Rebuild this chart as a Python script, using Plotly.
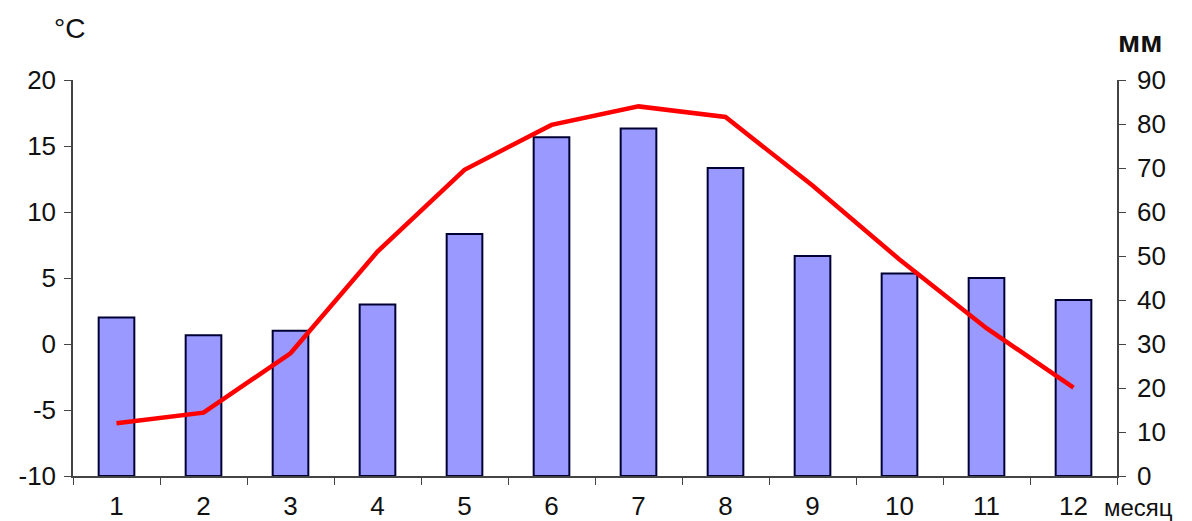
import plotly.graph_objects as go

months = [str(m) for m in range(1, 13)]
precip_mm = [36, 32, 33, 39, 55, 77, 79, 70, 50, 46, 45, 40]
temp_c = [-6.0, -5.2, -0.7, 7.0, 13.2, 16.6, 18.0, 17.2, 12.0, 6.4, 1.2, -3.3]

temp_ticks = [-10, -5, 0, 5, 10, 15, 20]
mm_ticks = [0, 10, 20, 30, 40, 50, 60, 70, 80, 90]

font_family = 'Liberation Sans, Arial, sans-serif'
axis_color = '#444444'
text_color = '#111111'

fig = go.Figure()

# precipitation bars on the right axis (primary y so the line sits on top)
fig.add_trace(go.Bar(
    x=months, y=precip_mm,
    marker=dict(color='#9999FF', line=dict(color='#000033', width=2)),
    width=0.41,
    yaxis='y',
))

# temperature line on the left axis
fig.add_trace(go.Scatter(
    x=months, y=temp_c,
    mode='lines',
    line=dict(color='#FF0000', width=4.5),
    yaxis='y2',
))

tick_font = dict(size=26, family=font_family, color=text_color)

# page body has an 8px margin, so the figure is shifted; margins compensate
fig.update_layout(
    width=1176, height=513,
    margin=dict(l=65, r=67, t=72, b=45),
    plot_bgcolor='white',
    paper_bgcolor='white',
    showlegend=False,
    xaxis=dict(
        type='category', automargin=False,
        showline=True, linecolor=axis_color, linewidth=1.5,
        ticks='outside', tickson='boundaries', ticklen=7, tickcolor=axis_color,
        tickfont=tick_font, showgrid=False, ticklabelstandoff=6,
    ),
    yaxis=dict(
        side='right', range=[0, 90], automargin=False,
        tickmode='array', tickvals=mm_ticks, ticktext=[str(v) for v in mm_ticks],
        showline=True, linecolor=axis_color, linewidth=1.5,
        ticks='outside', ticklen=7, tickcolor=axis_color,
        tickfont=tick_font, showgrid=False, zeroline=False, ticklabelstandoff=6,
    ),
    yaxis2=dict(
        side='left', overlaying='y', range=[-10, 20], automargin=False,
        tickmode='array', tickvals=temp_ticks,
        ticktext=[str(v) for v in temp_ticks],
        showline=True, linecolor=axis_color, linewidth=1.5,
        ticks='outside', ticklen=7, tickcolor=axis_color,
        tickfont=tick_font, showgrid=False, zeroline=False, ticklabelstandoff=3,
    ),
)

fig.add_annotation(text='\u00b0C', xref='paper', yref='paper', x=-0.003, y=1.131,
                   xanchor='center', yanchor='middle', showarrow=False,
                   font=dict(size=28, family=font_family, color=text_color))
fig.add_annotation(text='<b>мм</b>', xref='paper', yref='paper', x=1.022, y=1.096,
                   xanchor='center', yanchor='middle', showarrow=False,
                   font=dict(size=30, family=font_family, color=text_color))
fig.add_annotation(text='месяц', xref='paper', yref='paper', x=0.986, y=-0.079,
                   xanchor='left', yanchor='middle', showarrow=False,
                   font=dict(size=24, family=font_family, color=text_color))

fig.write_html("out.html")
